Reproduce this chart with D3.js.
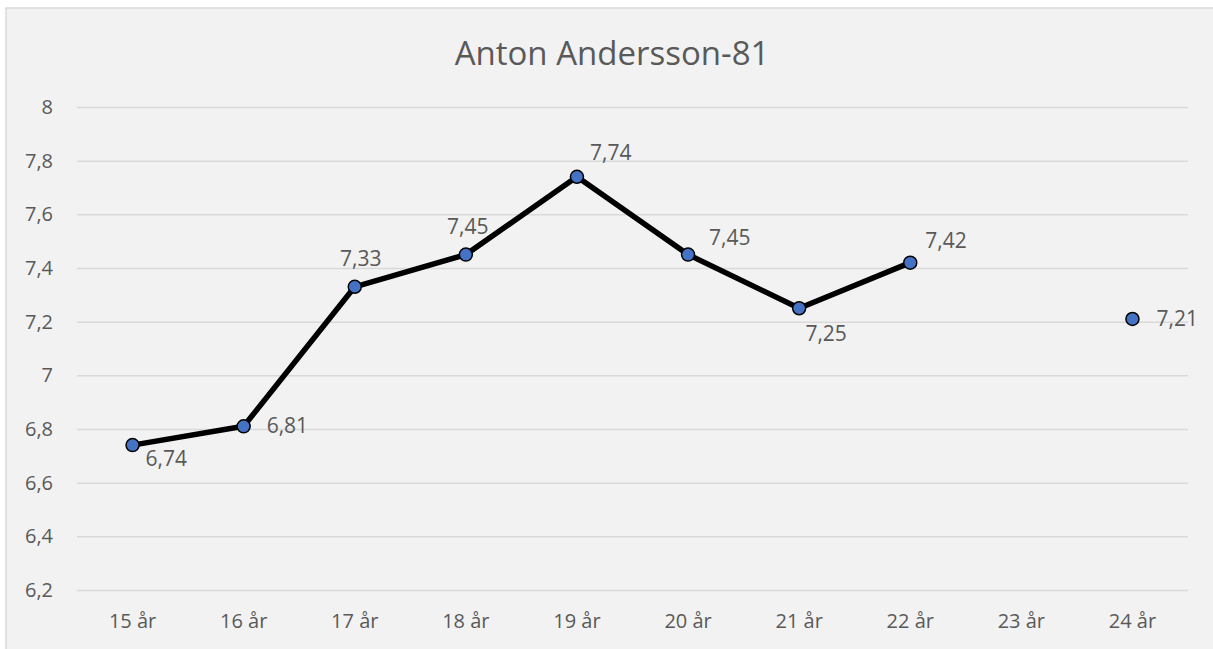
<!DOCTYPE html>
<html>
<head>
<meta charset="utf-8">
<script src="https://cdn.jsdelivr.net/npm/d3@7"></script>
<style>
  body { margin: 0; background: #fff; }
  text { font-family: "Open Sans", Lato, sans-serif; fill: #595959; }
</style>
</head>
<body>
<script>
// chart data
const title = "Anton Andersson-81";
const categories = ["15 år", "16 år", "17 år", "18 år", "19 år", "20 år", "21 år", "22 år", "23 år", "24 år"];
const values = [6.74, 6.81, 7.33, 7.45, 7.74, 7.45, 7.25, 7.42, null, 7.21];
const yTicks = [6.2, 6.4, 6.6, 6.8, 7, 7.2, 7.4, 7.6, 7.8, 8];

// where each data label sits relative to its point (dx, dy, anchor)
const labelPos = [
    [13, 21, "start"], [23, 7, "start"], [6, -21, "middle"], [2, -21, "middle"],
    [13, -17, "start"], [21, -10, "start"], [27, 33, "middle"], [15, -15, "start"],
    [0, 0, "start"], [24, 7, "start"]
];

const width = 1213, height = 649;
const plotL = 77, plotR = 1188, plotT = 107, plotB = 590;
const tickFont = 20, labelFont = 21;

const svg = d3.select("body").append("svg")
    .attr("width", width)
    .attr("height", height);

// chart area with thin frame on left/top
svg.append("rect")
    .attr("x", 6).attr("y", 8)
    .attr("width", width).attr("height", height)
    .attr("fill", "#f2f2f2")
    .attr("stroke", "#d9d9d9")
    .attr("stroke-width", 1.5);

const x = d3.scaleBand().domain(categories).range([plotL, plotR]);
const y = d3.scaleLinear().domain([6.2, 8]).range([plotB, plotT]);

const fmt = d => String(d).replace(".", ",");

// y axis: gridlines + labels
const yAxis = svg.append("g")
    .attr("transform", "translate(" + plotL + ",0)")
    .call(d3.axisLeft(y).tickValues(yTicks).tickSize(-(plotR - plotL)).tickPadding(24).tickFormat(fmt));
yAxis.select(".domain").remove();
yAxis.selectAll("line").attr("stroke", "#d9d9d9").attr("stroke-width", 1.5);
yAxis.selectAll("text").attr("font-size", tickFont).attr("font-family", "'Open Sans', sans-serif").attr("fill", "#595959");

// x axis labels
const xAxis = svg.append("g")
    .attr("transform", "translate(0," + plotB + ")")
    .call(d3.axisBottom(x).tickSize(0).tickPadding(24));
xAxis.select(".domain").remove();
xAxis.selectAll("text").attr("font-size", tickFont).attr("font-family", "'Open Sans', sans-serif").attr("fill", "#595959");

// title
svg.append("text")
    .attr("x", 612).attr("y", 65)
    .attr("text-anchor", "middle")
    .attr("font-size", 33)
    .text(title);

const pts = categories.map(function (c, i) { return { c: c, v: values[i], i: i }; });

const line = d3.line()
    .defined(function (d) { return d.v != null; })
    .x(function (d) { return x(d.c) + x.bandwidth() / 2; })
    .y(function (d) { return y(d.v); });

svg.append("path")
    .datum(pts)
    .attr("d", line)
    .attr("fill", "none")
    .attr("stroke", "#000")
    .attr("stroke-width", 5.5)
    .attr("stroke-linejoin", "round");

const valid = pts.filter(function (d) { return d.v != null; });

svg.selectAll("circle.pt")
    .data(valid)
    .enter()
    .append("circle")
    .attr("class", "pt")
    .attr("cx", function (d) { return x(d.c) + x.bandwidth() / 2; })
    .attr("cy", function (d) { return y(d.v); })
    .attr("r", 6.5)
    .attr("fill", "#4472c4")
    .attr("stroke", "#000")
    .attr("stroke-width", 1.5);

svg.selectAll("text.lbl")
    .data(valid)
    .enter()
    .append("text")
    .attr("class", "lbl")
    .attr("x", function (d) { return x(d.c) + x.bandwidth() / 2 + labelPos[d.i][0]; })
    .attr("y", function (d) { return y(d.v) + labelPos[d.i][1]; })
    .attr("text-anchor", function (d) { return labelPos[d.i][2]; })
    .attr("font-size", labelFont)
    .text(function (d) { return fmt(d.v); });
</script>
</body>
</html>
